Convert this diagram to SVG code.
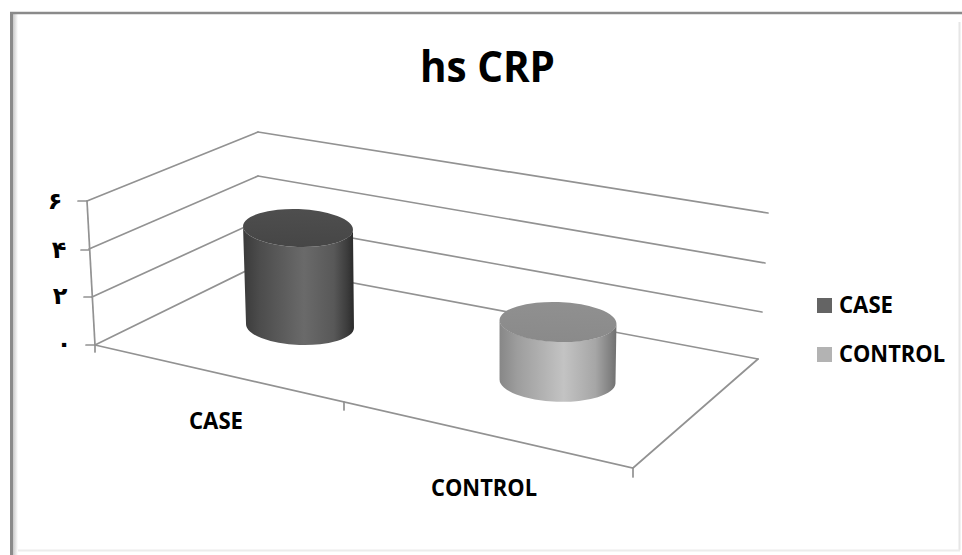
<svg xmlns="http://www.w3.org/2000/svg" width="962" height="555" viewBox="0 0 962 555">
  <defs>
    <style>
      .grid { stroke: #929292; stroke-width: 1.7; fill: none; stroke-linecap: round; }
      .lbl { font-family: "Open Sans", "Liberation Sans", sans-serif; font-weight: bold; fill: #000; }
      .num { font-family: "DejaVu Sans", "Noto Sans", sans-serif; font-weight: bold; font-size: 24px; fill: #000; text-anchor: middle; }
    </style>
    <!-- left inner shade of the chart frame -->
    <linearGradient id="frameShade" x1="0" y1="0" x2="1" y2="0">
      <stop offset="0" stop-color="#c8c8c8"/>
      <stop offset="1" stop-color="#ffffff"/>
    </linearGradient>
    <!-- cylinder body shading -->
    <linearGradient id="caseSide" x1="0" y1="0" x2="1" y2="0">
      <stop offset="0" stop-color="#3a3a3a"/>
      <stop offset="0.15" stop-color="#4c4c4c"/>
      <stop offset="0.55" stop-color="#6a6a6a"/>
      <stop offset="0.82" stop-color="#585858"/>
      <stop offset="0.94" stop-color="#3c3c3c"/>
      <stop offset="1" stop-color="#2a2a2a"/>
    </linearGradient>
    <linearGradient id="caseTop" x1="0" y1="0" x2="0" y2="1">
      <stop offset="0" stop-color="#4e4e4e"/>
      <stop offset="1" stop-color="#464646"/>
    </linearGradient>
    <linearGradient id="controlSide" x1="0" y1="0" x2="1" y2="0">
      <stop offset="0" stop-color="#878787"/>
      <stop offset="0.15" stop-color="#9d9d9d"/>
      <stop offset="0.55" stop-color="#c3c3c3"/>
      <stop offset="0.82" stop-color="#a6a6a6"/>
      <stop offset="0.95" stop-color="#808080"/>
      <stop offset="1" stop-color="#707070"/>
    </linearGradient>
    <linearGradient id="controlTop" x1="0" y1="0" x2="0" y2="1">
      <stop offset="0" stop-color="#909090"/>
      <stop offset="1" stop-color="#8a8a8a"/>
    </linearGradient>
  </defs>

  <!-- chart area and frame -->
  <g id="frame">
    <rect x="0" y="0" width="962" height="555" fill="#ffffff"/>
    <rect x="13" y="14" width="5" height="541" fill="url(#frameShade)"/>
    <line x1="959.5" y1="22" x2="959.5" y2="550" stroke="#e6e6e6" stroke-width="2"/>
    <line x1="18" y1="550.5" x2="960" y2="550.5" stroke="#ececec" stroke-width="2"/>
    <line x1="11.5" y1="12" x2="11.5" y2="555" stroke="#8a8a8a" stroke-width="3"/>
    <line x1="10" y1="13" x2="962" y2="13" stroke="#8a8a8a" stroke-width="2.5"/>
  </g>

  <g id="title">
    <text class="lbl" x="420" y="82" font-size="43" textLength="135" lengthAdjust="spacingAndGlyphs">hs CRP</text>
  </g>

  <!-- walls, floor, axes and ticks -->
  <g id="connectors">
    <!-- side wall gridlines -->
    <path class="grid" d="M87,201 L258,132 M89,249 L258,176 M92,297 L258,221 M95,345 L258,265"/>
    <!-- back wall gridlines -->
    <path class="grid" d="M258,132 L768,213 M258,176 L765,263 M258,221 L762,312 M258,265 L758,359"/>
    <!-- floor edges -->
    <path class="grid" d="M95,345 L633,468 L758,359"/>
    <!-- value axis -->
    <path class="grid" d="M87,201 L95,345"/>
    <path class="grid" d="M78,201 L87,201 M81,250 L89,250 M84,297 L92,297 M86,345 L95,345"/>
    <!-- category axis ticks -->
    <path class="grid" d="M95,345 L95,352 M344,402 L344,410 M633,468 L633,477"/>
  </g>

  <g id="value-labels">
    <text class="num" x="55" y="209">۶</text>
    <text class="num" x="59" y="258">۴</text>
    <text class="num" x="60" y="304">۲</text>
    <text class="num" x="64" y="352">۰</text>
  </g>

  <g id="bar-case">
    <path fill="url(#caseSide)" d="M243.03,226.08 L246.03,324.12 A54,19 2 0 0 353.97,327.88 L352.97,229.92 A55,19 2 0 1 243.03,226.08 Z"/>
    <ellipse cx="298" cy="228" rx="55" ry="19" fill="url(#caseTop)" transform="rotate(2 298 228)"/>
  </g>

  <g id="bar-control">
    <path fill="url(#controlSide)" d="M499.54,319.96 L499.54,379.48 A58,20.5 2 0 0 615.46,383.52 L616.46,324.04 A58.5,20 2 0 1 499.54,319.96 Z"/>
    <ellipse cx="558" cy="322" rx="58.5" ry="20" fill="url(#controlTop)" transform="rotate(2 558 322)"/>
  </g>

  <g id="category-labels">
    <text class="lbl" x="189" y="429" font-size="22.4" textLength="54" lengthAdjust="spacingAndGlyphs">CASE</text>
    <text class="lbl" x="431" y="496" font-size="22.4" textLength="106" lengthAdjust="spacingAndGlyphs">CONTROL</text>
  </g>

  <g id="legend">
    <g id="legend-case">
      <rect x="817" y="298" width="15" height="15" fill="#646464"/>
      <text class="lbl" x="839" y="313" font-size="22.4" textLength="54" lengthAdjust="spacingAndGlyphs">CASE</text>
    </g>
    <g id="legend-control">
      <rect x="817" y="347" width="15" height="15" fill="#b3b3b3"/>
      <text class="lbl" x="839" y="362" font-size="22.4" textLength="106" lengthAdjust="spacingAndGlyphs">CONTROL</text>
    </g>
  </g>
</svg>
